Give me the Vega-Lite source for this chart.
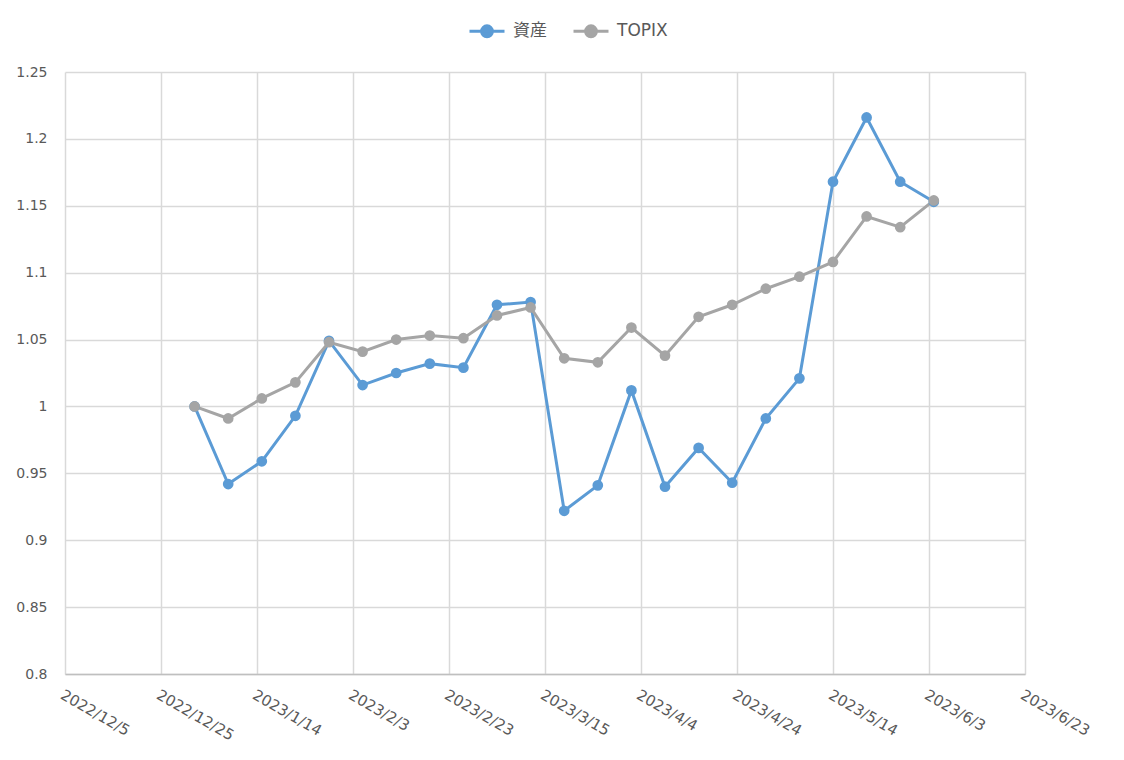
{
  "$schema": "https://vega.github.io/schema/vega-lite/v6.json",
  "width": 960,
  "height": 602,
  "autosize": {"type": "none"},
  "padding": {"left": 65, "top": 72, "right": 99, "bottom": 86},
  "background": "white",
  "config": {
    "view": {"stroke": null},
    "font": "DejaVu Sans",
    "axis": {"labelColor": "#595959", "labelFontSize": 14, "labelFont": "DejaVu Sans", "gridColor": "#d9d9d9", "gridWidth": 1.5, "ticks": false, "title": null},
    "legend": {"labelColor": "#595959", "labelFontSize": 17, "labelFont": "DejaVu Sans, Noto Sans CJK JP"}
  },
  "data": {
    "values": [
      {"date": "2023-01-01", "series": "資産", "v": 1.000},
      {"date": "2023-01-08", "series": "資産", "v": 0.942},
      {"date": "2023-01-15", "series": "資産", "v": 0.959},
      {"date": "2023-01-22", "series": "資産", "v": 0.993},
      {"date": "2023-01-29", "series": "資産", "v": 1.049},
      {"date": "2023-02-05", "series": "資産", "v": 1.016},
      {"date": "2023-02-12", "series": "資産", "v": 1.025},
      {"date": "2023-02-19", "series": "資産", "v": 1.032},
      {"date": "2023-02-26", "series": "資産", "v": 1.029},
      {"date": "2023-03-05", "series": "資産", "v": 1.076},
      {"date": "2023-03-12", "series": "資産", "v": 1.078},
      {"date": "2023-03-19", "series": "資産", "v": 0.922},
      {"date": "2023-03-26", "series": "資産", "v": 0.941},
      {"date": "2023-04-02", "series": "資産", "v": 1.012},
      {"date": "2023-04-09", "series": "資産", "v": 0.940},
      {"date": "2023-04-16", "series": "資産", "v": 0.969},
      {"date": "2023-04-23", "series": "資産", "v": 0.943},
      {"date": "2023-04-30", "series": "資産", "v": 0.991},
      {"date": "2023-05-07", "series": "資産", "v": 1.021},
      {"date": "2023-05-14", "series": "資産", "v": 1.168},
      {"date": "2023-05-21", "series": "資産", "v": 1.216},
      {"date": "2023-05-28", "series": "資産", "v": 1.168},
      {"date": "2023-06-04", "series": "資産", "v": 1.153},
      {"date": "2023-01-01", "series": "TOPIX", "v": 1.000},
      {"date": "2023-01-08", "series": "TOPIX", "v": 0.991},
      {"date": "2023-01-15", "series": "TOPIX", "v": 1.006},
      {"date": "2023-01-22", "series": "TOPIX", "v": 1.018},
      {"date": "2023-01-29", "series": "TOPIX", "v": 1.048},
      {"date": "2023-02-05", "series": "TOPIX", "v": 1.041},
      {"date": "2023-02-12", "series": "TOPIX", "v": 1.050},
      {"date": "2023-02-19", "series": "TOPIX", "v": 1.053},
      {"date": "2023-02-26", "series": "TOPIX", "v": 1.051},
      {"date": "2023-03-05", "series": "TOPIX", "v": 1.068},
      {"date": "2023-03-12", "series": "TOPIX", "v": 1.074},
      {"date": "2023-03-19", "series": "TOPIX", "v": 1.036},
      {"date": "2023-03-26", "series": "TOPIX", "v": 1.033},
      {"date": "2023-04-02", "series": "TOPIX", "v": 1.059},
      {"date": "2023-04-09", "series": "TOPIX", "v": 1.038},
      {"date": "2023-04-16", "series": "TOPIX", "v": 1.067},
      {"date": "2023-04-23", "series": "TOPIX", "v": 1.076},
      {"date": "2023-04-30", "series": "TOPIX", "v": 1.088},
      {"date": "2023-05-07", "series": "TOPIX", "v": 1.097},
      {"date": "2023-05-14", "series": "TOPIX", "v": 1.108},
      {"date": "2023-05-21", "series": "TOPIX", "v": 1.142},
      {"date": "2023-05-28", "series": "TOPIX", "v": 1.134},
      {"date": "2023-06-04", "series": "TOPIX", "v": 1.154}
    ]
  },
  "encoding": {
    "x": {
      "field": "date", "type": "temporal",
      "scale": {"type": "utc", "domain": [{"year": 2022, "month": 12, "date": 5, "utc": true}, {"year": 2023, "month": 6, "date": 23, "utc": true}]},
      "axis": {
        "values": [
          {"year": 2022, "month": 12, "date": 5, "utc": true},
          {"year": 2022, "month": 12, "date": 25, "utc": true},
          {"year": 2023, "month": 1, "date": 14, "utc": true},
          {"year": 2023, "month": 2, "date": 3, "utc": true},
          {"year": 2023, "month": 2, "date": 23, "utc": true},
          {"year": 2023, "month": 3, "date": 15, "utc": true},
          {"year": 2023, "month": 4, "date": 4, "utc": true},
          {"year": 2023, "month": 4, "date": 24, "utc": true},
          {"year": 2023, "month": 5, "date": 14, "utc": true},
          {"year": 2023, "month": 6, "date": 3, "utc": true},
          {"year": 2023, "month": 6, "date": 23, "utc": true}
        ],
        "format": "%Y/%-m/%-d",
        "labelFontSize": 15,
        "labelAngle": 30, "labelAlign": "left", "labelBaseline": "top", "labelPadding": 13,
        "labelOverlap": false, "labelBound": false, "labelFlush": false,
        "domainColor": "#bfbfbf", "domainWidth": 1.5
      }
    },
    "y": {
      "field": "v", "type": "quantitative",
      "scale": {"domain": [0.8, 1.25], "nice": false, "zero": false},
      "axis": {"values": [0.8, 0.85, 0.9, 0.95, 1.0, 1.05, 1.1, 1.15, 1.2, 1.25], "format": ".2~f", "domain": false, "labelPadding": 18, "labelFlush": false}
    },
    "color": {
      "field": "series", "type": "nominal",
      "scale": {"domain": ["資産", "TOPIX"], "range": ["#5b9bd5", "#a5a5a5"]},
      "legend": {
        "orient": "none", "legendX": 403, "legendY": -60, "direction": "horizontal", "title": null,
        "symbolType": "M-1,0H1M0.31,0A0.31,0.31,0,1,1,-0.31,0A0.31,0.31,0,1,1,0.31,0Z",
        "symbolSize": 1225, "symbolStrokeWidth": 3, "symbolOpacity": 1,
        "labelOffset": 7, "columnPadding": 20,
        "encode": {"symbols": {"update": {"fill": {"scale": "color", "field": "value"}, "stroke": {"scale": "color", "field": "value"}, "fillOpacity": {"value": 1}}}}
      }
    },
    "order": {"field": "date", "type": "temporal"}
  },
  "layer": [
    {"mark": {"type": "line", "strokeWidth": 3}},
    {"mark": {"type": "point", "filled": true, "size": 115, "opacity": 1}}
  ]
}
